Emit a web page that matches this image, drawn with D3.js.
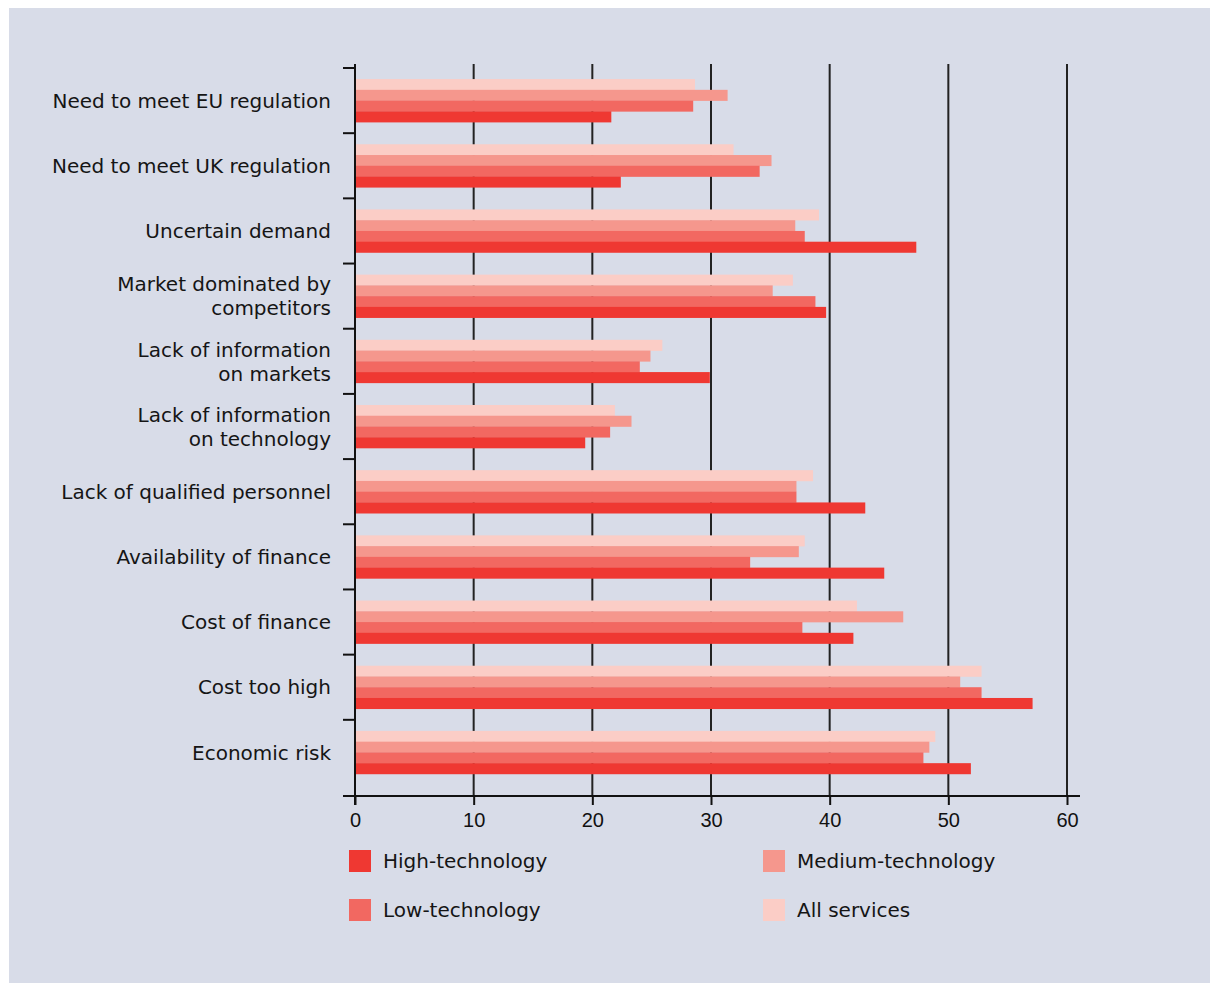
<!DOCTYPE html>
<html>
<head>
<meta charset="utf-8">
<script src="https://cdn.jsdelivr.net/npm/d3@7"></script>
<style>
  html, body { margin: 0; padding: 0; background: #ffffff; }
  svg { display: block; }
</style>
</head>
<body>
<script>
// Barriers to innovation, share of firms (%) by sector group
const categories = [
  "Need to meet EU regulation",
  "Need to meet UK regulation",
  "Uncertain demand",
  "Market dominated by\ncompetitors",
  "Lack of information\non markets",
  "Lack of information\non technology",
  "Lack of qualified personnel",
  "Availability of finance",
  "Cost of finance",
  "Cost too high",
  "Economic risk"
];

const highTech   = [21.6, 22.4, 47.3, 39.7, 29.9, 19.4, 43.0, 44.6, 42.0, 57.1, 51.9];
const lowTech    = [28.5, 34.1, 37.9, 38.8, 24.0, 21.5, 37.2, 33.3, 37.7, 52.8, 47.9];
const mediumTech = [31.4, 35.1, 37.1, 35.2, 24.9, 23.3, 37.2, 37.4, 46.2, 51.0, 48.4];
const allServices = [28.65, 31.9, 39.1, 36.9, 25.9, 21.9, 38.6, 37.9, 42.3, 52.8, 48.9];

const xTicks = [0, 10, 20, 30, 40, 50, 60];

// Series, in the order their bars are stacked top to bottom inside a group
const seriesNames = ["All services", "Medium-technology", "Low-technology", "High-technology"];
const seriesValues = [allServices, mediumTech, lowTech, highTech];
const seriesColors = ["#fbcdc6", "#f5978d", "#f26861", "#ef3832"];

// Legend layout order (two columns, two rows)
const legendOrder = ["High-technology", "Medium-technology", "Low-technology", "All services"];

const W = 1210, H = 983;
const svg = d3.select("body").append("svg").attr("width", W).attr("height", H);

// Panel
svg.append("rect").attr("x", 9).attr("y", 8).attr("width", W - 9).attr("height", H - 8)
  .attr("fill", "#d8dce8");

const x = d3.scaleLinear().domain([0, 60]).range([355, 1067]);
const y = d3.scaleBand().domain(categories).range([68, 785])
  .paddingInner(0.34).paddingOuter(0.17);
const ySub = d3.scaleBand().domain(seriesNames).range([0, y.bandwidth()]);

const axisTop = 64, axisBottom = 796;

// Vertical gridlines
svg.append("g").selectAll("line").data(xTicks.filter(d => d > 0)).join("line")
  .attr("x1", d => x(d)).attr("x2", d => x(d))
  .attr("y1", axisTop).attr("y2", axisBottom)
  .attr("stroke", "#222").attr("stroke-width", 2);

// Bars
const rows = categories.map((c, i) => ({ cat: c, vals: seriesValues.map(s => s[i]) }));
const groups = svg.append("g").selectAll("g").data(rows).join("g")
  .attr("transform", d => `translate(0,${y(d.cat)})`);
groups.selectAll("rect")
  .data(d => seriesNames.map((n, k) => ({ name: n, value: d.vals[k], color: seriesColors[k] })))
  .join("rect")
  .attr("x", x(0))
  .attr("y", d => ySub(d.name))
  .attr("width", d => x(d.value) - x(0))
  .attr("height", ySub.bandwidth() + 0.3)
  .attr("fill", d => d.color);

// Left axis line and category separators
svg.append("line").attr("x1", x(0)).attr("x2", x(0))
  .attr("y1", axisTop).attr("y2", axisBottom + 9)
  .attr("stroke", "#111").attr("stroke-width", 2);
const step = y.step();
svg.append("g").selectAll("line").data(categories).join("line")
  .attr("x1", x(0) - 12).attr("x2", x(0))
  .attr("y1", d => y(d) - step * y.paddingOuter())
  .attr("y2", d => y(d) - step * y.paddingOuter())
  .attr("stroke", "#111").attr("stroke-width", 2);

// Category labels
const labelFont = "'DejaVu Sans', sans-serif";
const lineH = 24;
svg.append("g").selectAll("text").data(categories).join("text")
  .attr("x", 331)
  .attr("font-family", labelFont).attr("font-size", 20).attr("fill", "#151515")
  .attr("text-anchor", "end")
  .each(function (d) {
    const lines = d.split("\n");
    const cy = y(d) + y.bandwidth() / 2;
    const t = d3.select(this);
    lines.forEach((ln, i) => {
      t.append("tspan").attr("x", 331)
        .attr("y", cy + (i - (lines.length - 1) / 2) * lineH)
        .attr("dy", "0.36em").text(ln);
    });
  });

// Bottom axis
const xAxis = d3.axisBottom(x).tickValues(xTicks).tickSize(9).tickPadding(7.5).tickSizeOuter(0);
const gx = svg.append("g").attr("transform", `translate(0,${axisBottom})`).call(xAxis);
gx.select(".domain").remove();
gx.selectAll(".tick line").attr("stroke", "#111").attr("stroke-width", 2);
gx.selectAll(".tick text").attr("font-family", "'Liberation Sans', Arial, sans-serif")
  .attr("font-size", 20).attr("fill", "#111");
svg.append("line").attr("x1", 343).attr("x2", 1080)
  .attr("y1", axisBottom).attr("y2", axisBottom)
  .attr("stroke", "#111").attr("stroke-width", 2);

// Legend
const legendPos = {
  "High-technology": [349, 850],
  "Medium-technology": [763, 850],
  "Low-technology": [349, 899],
  "All services": [763, 899]
};
const lg = svg.append("g").selectAll("g").data(legendOrder).join("g")
  .attr("transform", d => `translate(${legendPos[d][0]},${legendPos[d][1]})`);
lg.append("rect").attr("width", 22).attr("height", 22)
  .attr("fill", d => seriesColors[seriesNames.indexOf(d)]);
lg.append("text").attr("x", 34).attr("y", 11).attr("dy", "0.36em")
  .attr("font-family", labelFont).attr("font-size", 20).attr("fill", "#151515")
  .text(d => d);
</script>
</body>
</html>
